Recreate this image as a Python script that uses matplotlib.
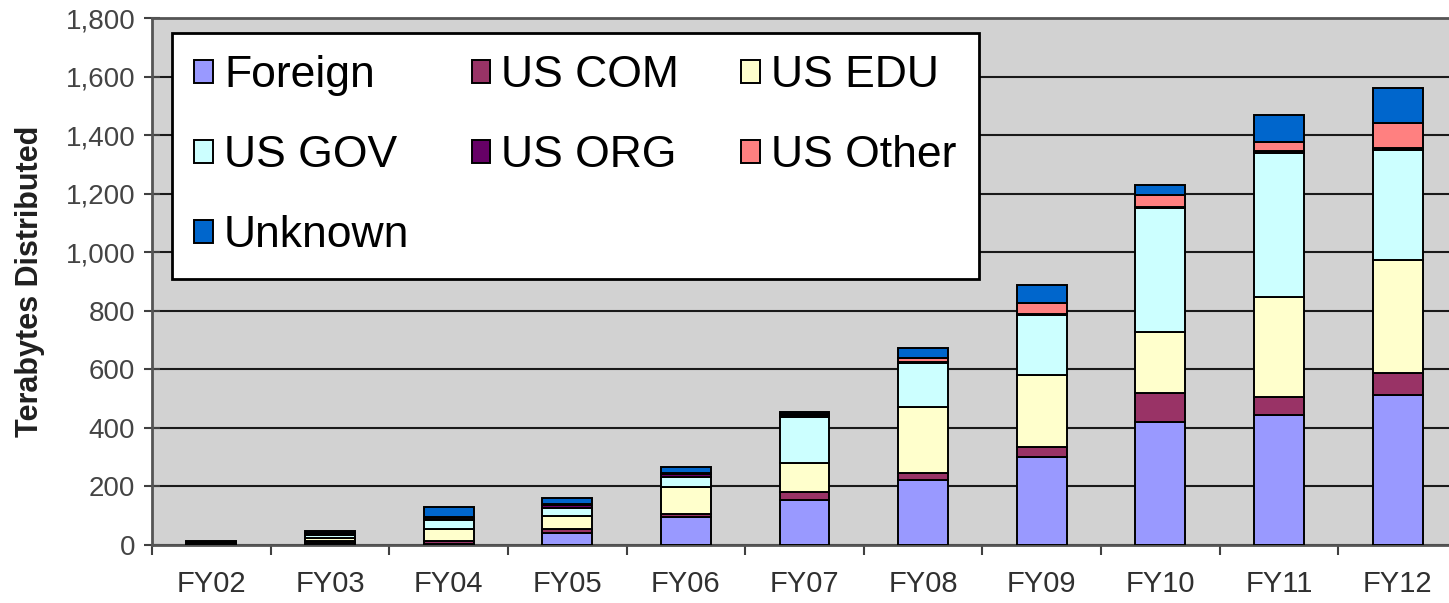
import numpy as np
import matplotlib
matplotlib.use('Agg')
import matplotlib.pyplot as plt
from matplotlib.ticker import FuncFormatter

plt.rcParams['font.family'] = ['Liberation Sans', 'DejaVu Sans']

# Terabytes distributed per fiscal year, by customer category
years = ['FY02', 'FY03', 'FY04', 'FY05', 'FY06', 'FY07', 'FY08', 'FY09', 'FY10', 'FY11', 'FY12']
foreign = [2, 8, 5, 40, 95, 154, 222, 300, 420, 444, 512]
us_com = [2, 5, 10, 15, 12, 27, 23, 34, 99, 61, 75]
us_edu = [3, 12, 40, 45, 90, 99, 226, 246, 208, 341, 386]
us_gov = [2, 8, 30, 25, 35, 157, 150, 205, 423, 492, 375]
us_org = [1, 4, 5, 10, 10, 7, 5, 5, 5, 7, 7]
us_other = [1, 3, 5, 5, 5, 5, 12, 38, 40, 30, 85]
unknown = [2, 8, 35, 20, 20, 6, 34, 59, 34, 93, 120]

series = [
    ('Foreign', foreign, '#9999FF'),
    ('US COM', us_com, '#993366'),
    ('US EDU', us_edu, '#FFFFCC'),
    ('US GOV', us_gov, '#CCFFFF'),
    ('US ORG', us_org, '#660066'),
    ('US Other', us_other, '#FF8080'),
    ('Unknown', unknown, '#0066CC'),
]

W, H = 1449, 603
fig = plt.figure(figsize=(W / 100, H / 100), dpi=100)
fig.patch.set_facecolor('white')

# plot area runs a little past the right edge, as in the original
ax = fig.add_axes([152 / W, (H - 545) / H, (1457 - 152) / W, (545 - 18) / H])
ax.set_facecolor('#D2D2D2')

x = np.arange(len(years))
bottom = np.zeros(len(years))
handles = {}
for name, vals, color in series:
    bars = ax.bar(x, vals, width=0.42, bottom=bottom, color=color,
                  edgecolor='black', linewidth=1.4, zorder=3, label=name)
    handles[name] = bars
    bottom += np.array(vals)

ax.set_xlim(-0.5, 10.5)
ax.set_ylim(0, 1800)
ax.set_yticks(np.arange(0, 1801, 200))
ax.yaxis.set_major_formatter(FuncFormatter(lambda v, p: f'{int(v):,}'))
ax.yaxis.grid(True, color='#1a1a1a', linewidth=1.5, zorder=1)
ax.set_axisbelow(True)

ax.set_xticks(x)
ax.set_xticklabels(years)
ax.set_xticks(np.arange(-0.5, 11, 1), minor=True)
ax.tick_params(axis='x', which='major', length=0, pad=18, labelsize=21, labelcolor='#303030')
ax.tick_params(axis='x', which='minor', length=7, width=1.5, direction='out', color='#404040')
ax.tick_params(axis='y', length=12, width=1.5, direction='inout', pad=6,
               labelsize=20, labelcolor='#444444', color='#404040')

for s in ax.spines.values():
    s.set_color('#555555')
    s.set_linewidth(2)

ax.set_ylabel('Terabytes Distributed', fontsize=22, fontweight='bold', color='#202020')
ax.yaxis.set_label_coords(-0.082, 0.5)

# legend laid out row-wise like Excel: matplotlib fills columns first
order = ['Foreign', 'US GOV', 'Unknown', 'US COM', 'US ORG', 'US EDU', 'US Other']
leg = ax.legend([handles[n] for n in order], order, ncol=3,
                loc='upper left', bbox_to_anchor=(172 / W, 1 - 33 / H),
                bbox_transform=fig.transFigure, borderaxespad=0,
                fontsize=32, frameon=True, fancybox=False, framealpha=1,
                edgecolor='black', handlelength=0.42, handleheight=0.42,
                handletextpad=0.25, columnspacing=1.4, labelspacing=0.88,
                borderpad=0.5)
leg.get_frame().set_linewidth(2)
leg.set_zorder(5)

fig.savefig('out.png', dpi=100, facecolor='white')
